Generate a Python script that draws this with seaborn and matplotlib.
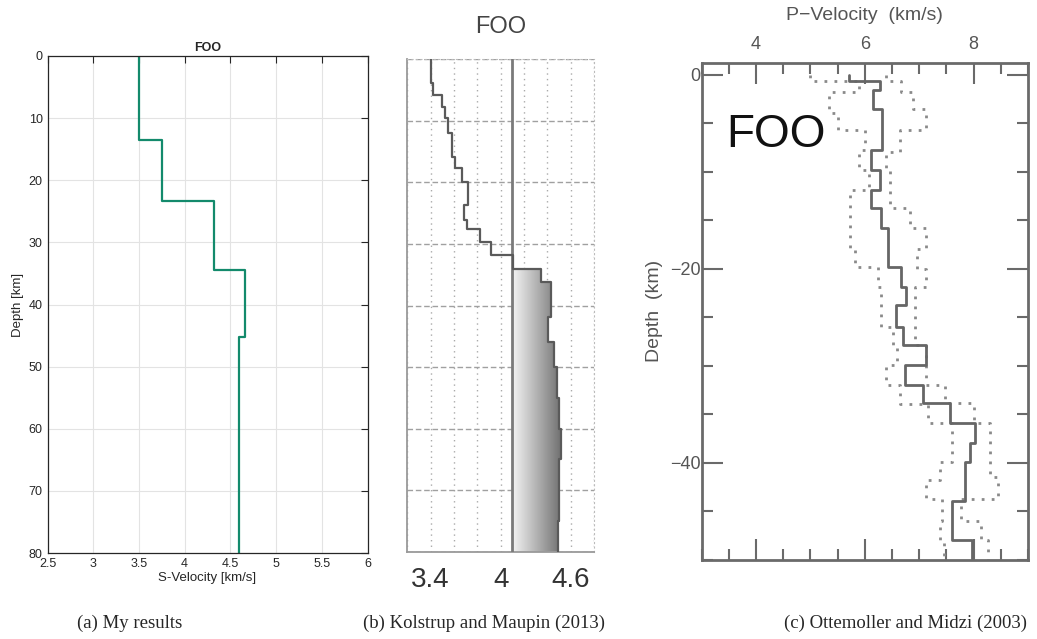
import numpy as np
import matplotlib
matplotlib.use('Agg')
import matplotlib.pyplot as plt
import seaborn as sns
from matplotlib.colors import LinearSegmentedColormap
from matplotlib.ticker import MultipleLocator, FixedLocator, FuncFormatter

# ---------------- data ----------------
# (a) My results: layer boundaries (km) and S-velocity (km/s)
a_bounds = [0, 13.6, 23.3, 34.5, 45.2, 80]
a_vs = [3.50, 3.75, 4.32, 4.66, 4.59]
a_xticks = [2.5, 3, 3.5, 4, 4.5, 5, 5.5, 6]
a_xticklabels = ['2.5', '3', '3.5', '4', '4.5', '5', '5.5', '6']
a_yticks = [0, 10, 20, 30, 40, 50, 60, 70, 80]

# (b) Kolstrup and Maupin (2013)
b_bounds = [0, 3.9, 5.8, 7.7, 9.6, 12.0, 15.8, 17.7, 19.9, 23.7, 26.1, 27.5,
            29.6, 31.8, 34.0, 36.1, 41.8, 46.0, 50.0, 55.0, 60.0, 65.0, 75.0, 80.0]
b_vs = [3.40, 3.42, 3.495, 3.52, 3.55, 3.58, 3.61, 3.67, 3.72, 3.69, 3.71,
        3.82, 3.92, 4.11, 4.35, 4.43, 4.41, 4.46, 4.48, 4.50, 4.52, 4.50, 4.49]
b_ref = 4.1
b_shade_top = 34.0
b_ticklabels = {3.4: '3.4', 4.0: '4', 4.6: '4.6'}

# (c) Ottemoller and Midzi (2003): P-velocity, median and bounds
c_med_bounds = [0, 0.7, 1.6, 3.5, 7.8, 9.8, 11.9, 13.8, 15.8, 19.8, 21.9, 23.8,
                26.0, 27.9, 29.9, 32.0, 33.9, 35.9, 38.0, 39.9, 44.0, 48.0, 50]
c_med = [5.7, 6.27, 6.15, 6.31, 6.12, 6.27, 6.12, 6.30, 6.43, 6.67, 6.76, 6.58,
         6.70, 7.13, 6.73, 7.07, 7.57, 8.03, 7.94, 7.84, 7.61, 7.97]
c_low_bounds = [0, 0.7, 1.8, 4.0, 5.7, 7.8, 9.8, 11.9, 17.9, 19.8, 21.9, 26.0,
                27.9, 29.9, 32.0, 34.0, 35.9, 39.9, 41.8, 43.8, 46.0, 48.0, 50]
c_low = [5.0, 5.9, 5.34, 5.5, 6.0, 5.9, 6.08, 5.72, 5.81, 6.24, 6.30, 6.52,
         6.6, 6.39, 6.64, 7.17, 7.60, 7.38, 7.12, 7.42, 7.38, 7.45]
c_high_bounds = [0, 0.7, 1.8, 3.5, 5.7, 8.0, 9.8, 13.8, 15.8, 18.0, 20.0, 21.9,
                 27.9, 32.0, 33.9, 35.9, 41.5, 43.8, 46.0, 48.0, 50]
c_high = [6.39, 6.67, 6.89, 7.13, 6.64, 6.38, 6.46, 6.83, 7.12, 6.95, 7.12, 6.92,
          7.13, 7.47, 8.0, 8.30, 8.44, 7.77, 8.14, 8.26]

captions = ['(a) My results', '(b) Kolstrup and Maupin (2013)',
            '(c) Ottemoller and Midzi (2003)']


def steps(bounds, vals):
    b = np.asarray(bounds, float)
    v = np.asarray(vals, float)
    return np.repeat(v, 2), np.repeat(b, 2)[1:-1]


sns.set_style('white')
plt.rcParams['font.family'] = ['Liberation Sans', 'DejaVu Sans']

W, H = 1037, 639
fig = plt.figure(figsize=(W / 100, H / 100), dpi=100)


def frac_axes(l, t, r, b):
    return fig.add_axes([l / W, 1 - b / H, (r - l) / W, (b - t) / H])


# ---------------- panel (a) ----------------
axa = frac_axes(47.5, 56, 367.5, 553)
ax_x, ax_y = steps(a_bounds, a_vs)
sns.lineplot(x=ax_x, y=ax_y, sort=False, estimator=None, ax=axa,
             color='#138a6c', lw=1.6)
axa.set_xlim(2.5, 6)
axa.set_ylim(80, 0)
axa.set_xticks(a_xticks)
axa.set_xticklabels(a_xticklabels)
axa.set_yticks(a_yticks)
axa.grid(True, color='#e3e3e3', lw=0.8)
axa.tick_params(direction='in', top=True, right=True, length=5, width=0.8,
                color='#262626', labelsize=9, labelcolor='#262626', pad=3.5)
for s in axa.spines.values():
    s.set_color('#262626')
    s.set_linewidth(0.9)
axa.set_xlabel('S-Velocity [km/s]', fontsize=9.5, color='#262626', labelpad=1.5)
axa.set_ylabel('Depth [km]', fontsize=9.5, color='#262626', labelpad=3)
axa.set_title('FOO', fontsize=9, fontweight='bold', pad=3.5)

# ---------------- panel (b) ----------------
axb = frac_axes(407.3, 59.3, 594, 551.8)
bx, by = steps(b_bounds, b_vs)
mask = by >= b_shade_top
poly = axb.fill_betweenx(by[mask], b_ref, bx[mask], facecolor='none',
                         edgecolor='none')
cmap_b = LinearSegmentedColormap.from_list('shade', ['#f5f5f5', '#6c6c6c'])
grad = np.linspace(0, 1, 256)[None, :]
im = axb.imshow(grad, extent=[b_ref, 4.53, 80, b_shade_top], aspect='auto',
                cmap=cmap_b, zorder=1, interpolation='bilinear')
im.set_clip_path(poly.get_paths()[0], transform=axb.transData)
axb.axvline(b_ref, color='#7a7a7a', lw=2, zorder=3)
sns.lineplot(x=bx, y=by, sort=False, estimator=None, ax=axb,
             color='#5a5a5a', lw=1.6, zorder=4)
axb.set_xlim(3.2, 4.8)
axb.set_ylim(80, 0)
axb.set_aspect('auto')
axb.xaxis.set_major_locator(MultipleLocator(0.2))
axb.xaxis.set_major_formatter(FuncFormatter(
    lambda v, p: b_ticklabels.get(round(v, 1), '')))
axb.yaxis.set_major_locator(MultipleLocator(10))
axb.yaxis.set_major_formatter(FuncFormatter(lambda v, p: ''))
axb.xaxis.grid(True, linestyle=(0, (1, 3)), color='#aaaaaa', lw=1)
axb.yaxis.grid(True, linestyle=(0, (4, 2)), color='#a0a0a0', lw=1)
axb.set_axisbelow(True)
axb.tick_params(axis='x', length=0, labelsize=20, labelcolor='#333333', pad=11)
axb.tick_params(axis='y', direction='in', length=4, color='#888888', width=1)
for side in ['left', 'bottom']:
    axb.spines[side].set_color('#9a9a9a')
    axb.spines[side].set_linewidth(1.3)
for side in ['top', 'right']:
    axb.spines[side].set_color('#bbbbbb')
    axb.spines[side].set_linestyle((0, (1, 3)))
axb.set_title('FOO', fontsize=17, color='#444444', pad=19)

# ---------------- panel (c) ----------------
axc = frac_axes(701.7, 63, 1028, 559.5)
for bnds, vals in [(c_low_bounds, c_low), (c_high_bounds, c_high)]:
    vx, vy = steps(bnds, vals)
    sns.lineplot(x=vx, y=-vy, sort=False, estimator=None, ax=axc,
                 color='#8a8a8a', lw=2, linestyle=(0, (1, 2.6)))
mx, my = steps(c_med_bounds, c_med)
sns.lineplot(x=mx, y=-my, sort=False, estimator=None, ax=axc,
             color='#666666', lw=2)
axc.set_xlim(3, 9)
axc.set_ylim(-50, 1.2)
axc.xaxis.set_major_locator(FixedLocator([4, 6, 8]))
axc.xaxis.set_minor_locator(MultipleLocator(0.5))
axc.yaxis.set_major_locator(FixedLocator([0, -20, -40]))
axc.yaxis.set_minor_locator(MultipleLocator(5))
axc.tick_params(which='both', direction='in', top=True, bottom=True, left=True,
                right=True, labeltop=True, labelbottom=False, color='#6a6a6a',
                width=1.5, labelsize=13, labelcolor='#555555')
axc.tick_params(which='major', length=15)
axc.tick_params(which='minor', length=8)
axc.tick_params(axis='x', pad=7)
axc.tick_params(axis='y', pad=1)
for s in axc.spines.values():
    s.set_color('#6a6a6a')
    s.set_linewidth(2)
axc.xaxis.set_label_position('top')
axc.set_xlabel('P\u2212Velocity  (km/s)', fontsize=14, color='#555555',
               labelpad=12)
axc.set_ylabel('Depth  (km)', fontsize=14, color='#555555', labelpad=5)
axc.text(0.228, 0.831, 'FOO', transform=axc.transAxes, fontsize=33,
         color='#111111', ha='center', va='baseline')

# ---------------- captions ----------------
for cx, txt in zip([130, 484, 906], captions):
    fig.text(cx / W, 1 - 623 / H, txt, ha='center', va='center',
             fontsize=13.5, family=['Liberation Serif', 'DejaVu Serif'])

fig.savefig('out.png', dpi=100)
